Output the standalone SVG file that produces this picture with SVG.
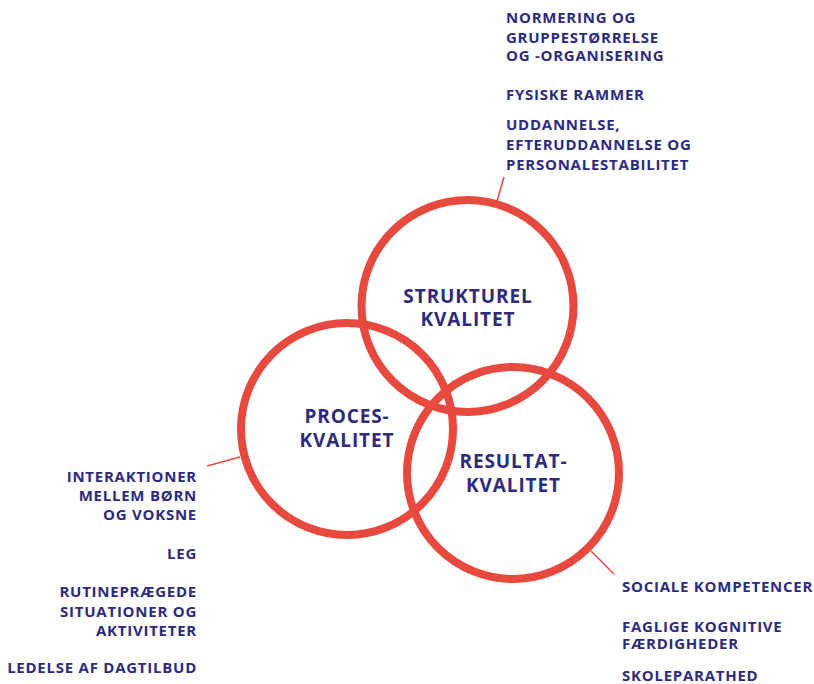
<svg xmlns="http://www.w3.org/2000/svg" width="814" height="684" viewBox="0 0 814 684">
<style>
.c{fill:none;stroke:#e8493f;stroke-width:8}
.l{stroke:#e8493f;stroke-width:1.5;fill:none}
text{font-family:"Open Sans","Liberation Sans",sans-serif;font-weight:700;fill:#2e2a7c}
.s{font-size:15px;letter-spacing:0.75px}
.b{font-size:19px;letter-spacing:0.9px;text-anchor:middle}
.r{text-anchor:end}
</style>
<rect width="814" height="684" fill="#fff"/>
<g id="connectors">
<line class="l" x1="504" y1="177" x2="497" y2="201"/>
<line class="l" x1="207" y1="466" x2="240" y2="457"/>
<line class="l" x1="591" y1="551" x2="614" y2="574"/>
</g>
<g id="strukturel">
<circle class="c" cx="467.5" cy="306" r="106"/>
<text class="b" x="468" y="303">STRUKTUREL</text>
<text class="b" x="468" y="326">KVALITET</text>
</g>
<g id="proces">
<circle class="c" cx="347" cy="429" r="106"/>
<text class="b" x="347" y="423">PROCES-</text>
<text class="b" x="347" y="447">KVALITET</text>
</g>
<g id="resultat">
<circle class="c" cx="513" cy="473" r="106"/>
<text class="b" x="513.5" y="468">RESULTAT-</text>
<text class="b" x="513.5" y="492">KVALITET</text>
</g>
<g id="strukturel-items">
<text class="s" x="506" y="23">NORMERING OG</text>
<text class="s" x="506" y="43">GRUPPESTØRRELSE</text>
<text class="s" x="506" y="61">OG -ORGANISERING</text>
<text class="s" x="506" y="100">FYSISKE RAMMER</text>
<text class="s" x="506" y="130">UDDANNELSE,</text>
<text class="s" x="506" y="150">EFTERUDDANNELSE OG</text>
<text class="s" x="506" y="170">PERSONALESTABILITET</text>
</g>
<g id="proces-items">
<text class="s r" x="197" y="482">INTERAKTIONER</text>
<text class="s r" x="197" y="501">MELLEM BØRN</text>
<text class="s r" x="197" y="520">OG VOKSNE</text>
<text class="s r" x="197" y="559">LEG</text>
<text class="s r" x="197" y="597">RUTINEPRÆGEDE</text>
<text class="s r" x="197" y="617">SITUATIONER OG</text>
<text class="s r" x="197" y="636">AKTIVITETER</text>
<text class="s r" x="197" y="673">LEDELSE AF DAGTILBUD</text>
</g>
<g id="resultat-items">
<text class="s" x="622" y="592">SOCIALE KOMPETENCER</text>
<text class="s" x="622" y="632">FAGLIGE KOGNITIVE</text>
<text class="s" x="622" y="649">FÆRDIGHEDER</text>
<text class="s" x="622" y="681">SKOLEPARATHED</text>
</g>
</svg>
